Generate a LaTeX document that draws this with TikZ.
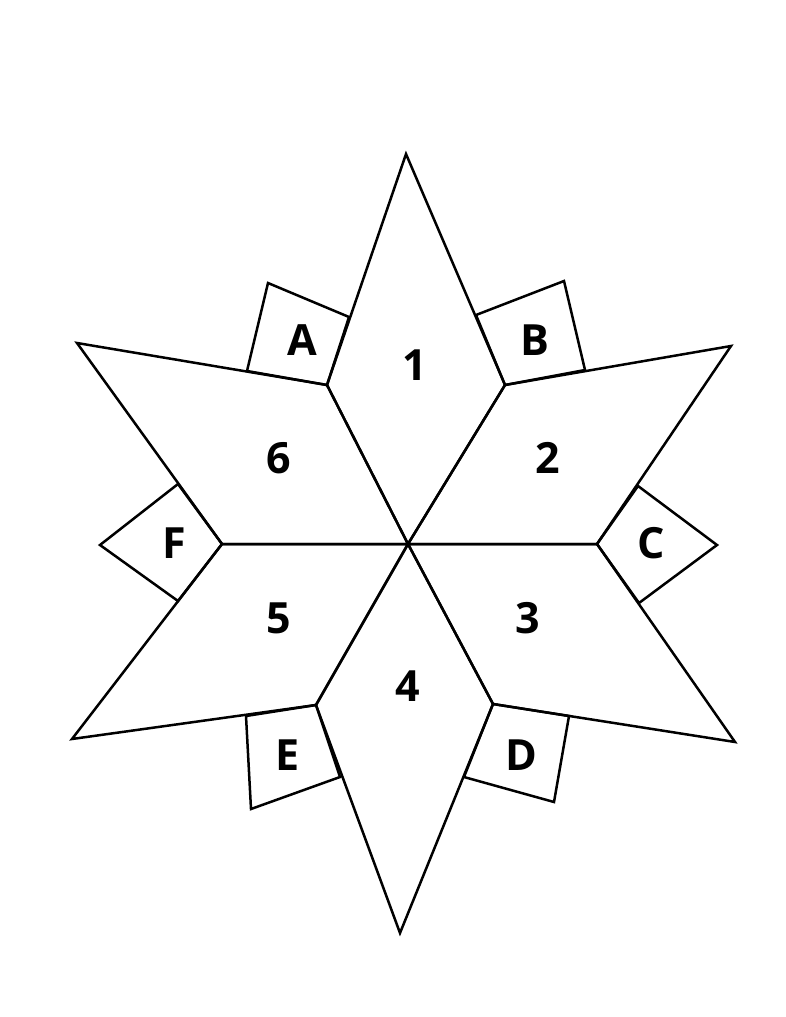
\documentclass[tikz,border=0pt]{standalone}
\usepackage{fontspec}
\setmainfont{Open Sans}
\usepackage{tikz}

\begin{document}
\begin{tikzpicture}[
    x=1pt, y=-1pt,
    piece/.style={
        draw, line width=2.5pt,
        line join=miter
    },
    lbl/.style={
        font=\fontsize{43}{43}\selectfont\bfseries
    }
]
\useasboundingbox (0,0) rectangle (786,1017);

% Points of the star
\coordinate (o) at (408,544);
\coordinate (t1) at (406,154);
\coordinate (t2) at (731,346);
\coordinate (t3) at (735,742);
\coordinate (t4) at (400,933);
\coordinate (t5) at (72,739);
\coordinate (t6) at (77,343);
\coordinate (v12) at (505,385);
\coordinate (v23) at (597,544);
\coordinate (v34) at (493,704);
\coordinate (v45) at (316,705);
\coordinate (v56) at (222,544);
\coordinate (v61) at (327,385);

% Small pieces
\draw [piece] (v61) -- (247,371) -- (268,283) -- (349,317) -- cycle;
\draw [piece] (v12) -- (476,315) -- (564,281) -- (585,370) -- cycle;
\draw [piece] (v23) -- (638,486) -- (717,545) -- (639,603) -- cycle;
\draw [piece] (v34) -- (569,716) -- (554,802) -- (464,777) -- cycle;
\draw [piece] (v45) -- (340,777) -- (251,809) -- (246,716) -- cycle;
\draw [piece] (v56) -- (178,601) -- (100,545) -- (178,484) -- cycle;

% Diamonds
\draw [piece] (o) -- (v61) -- (t1) -- (v12) -- cycle;
\draw [piece] (o) -- (v12) -- (t2) -- (v23) -- cycle;
\draw [piece] (o) -- (v23) -- (t3) -- (v34) -- cycle;
\draw [piece] (o) -- (v34) -- (t4) -- (v45) -- cycle;
\draw [piece] (o) -- (v45) -- (t5) -- (v56) -- cycle;
\draw [piece] (o) -- (v56) -- (t6) -- (v61) -- cycle;

% Numbers
\node [lbl] (n1) at (415,365) {1};
\node [lbl] (n2) at (548,458) {2};
\node [lbl] (n3) at (528,618) {3};
\node [lbl] (n4) at (408,686) {4};
\node [lbl] (n5) at (279,618) {5};
\node [lbl] (n6) at (279,458) {6};

% Letters
\node [lbl] (la) at (302,340) {A};
\node [lbl] (lb) at (535,340) {B};
\node [lbl] (lc) at (651,543) {C};
\node [lbl] (ld) at (521,755) {D};
\node [lbl] (le) at (288,755) {E};
\node [lbl] (lf) at (174,543) {F};

\end{tikzpicture}
\end{document}
